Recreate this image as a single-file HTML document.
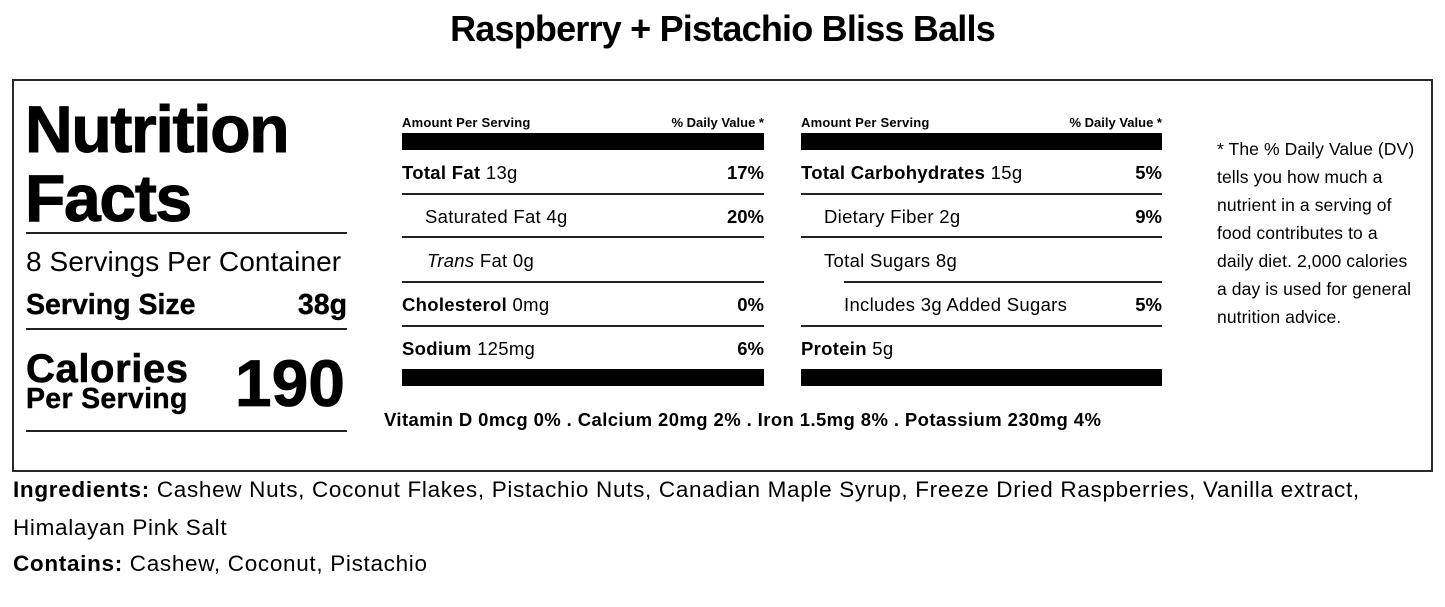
<!DOCTYPE html>
<html><head><meta charset="utf-8"><style>
*{margin:0;padding:0;box-sizing:border-box}
html,body{width:1445px;height:607px;background:#fff;overflow:hidden}
body{position:relative;font-family:"Liberation Sans",Arial,sans-serif;color:#000}
.a{position:absolute;white-space:nowrap;line-height:1}
.b{font-weight:bold}
.ln{position:absolute;height:2px;background:#222}
.bar{position:absolute;height:17px;background:#000}
.r{text-align:right}
.row{letter-spacing:0.3px}
</style></head><body>
<div class="a b" style="left:0;width:1445px;text-align:center;top:11px;font-size:36px;letter-spacing:-0.8px">Raspberry + Pistachio Bliss Balls</div>

<div style="position:absolute;left:12px;top:79px;width:1421px;height:393px;border:2px solid #2a2a2a"></div>

<!-- left column -->
<div class="a b" style="left:25px;top:96px;font-size:66px;letter-spacing:-1.3px;-webkit-text-stroke:1px #000">Nutrition</div>
<div class="a b" style="left:25px;top:165px;font-size:66px;letter-spacing:-1.3px;-webkit-text-stroke:1px #000">Facts</div>
<div class="ln" style="left:26px;top:232px;width:321px"></div>
<div class="a" style="left:26px;top:248px;font-size:28px;letter-spacing:0.1px">8 Servings Per Container</div>
<div class="a b" style="left:26px;top:291px;font-size:28.5px;-webkit-text-stroke:0.4px #000">Serving Size</div>
<div class="a b r" style="left:247px;width:100px;top:291px;font-size:28.5px;-webkit-text-stroke:0.4px #000">38g</div>
<div class="ln" style="left:26px;top:328px;width:321px"></div>
<div class="a b" style="left:26px;top:349px;font-size:40px;letter-spacing:0.6px;-webkit-text-stroke:0.6px #000">Calories</div>
<div class="a b" style="left:26px;top:385px;font-size:28.5px;letter-spacing:0.3px;-webkit-text-stroke:0.4px #000">Per Serving</div>
<div class="a b r" style="left:195px;width:150px;top:350px;font-size:66px;-webkit-text-stroke:0.8px #000">190</div>
<div class="ln" style="left:26px;top:430px;width:321px"></div>

<!-- middle column -->
<div class="a b" style="left:402px;top:116px;font-size:13px;letter-spacing:0.2px">Amount Per Serving</div>
<div class="a b r" style="left:600px;width:164px;top:116px;font-size:13px">% Daily Value *</div>
<div class="bar" style="left:402px;top:133px;width:362px"></div>

<div class="a row" style="left:402px;top:164px;font-size:18.5px"><b>Total Fat</b> 13g</div>
<div class="a b r" style="left:664px;width:100px;top:164px;font-size:18.5px">17%</div>
<div class="ln" style="left:402px;top:193px;width:362px"></div>

<div class="a row" style="left:425px;top:208px;font-size:18.5px">Saturated Fat 4g</div>
<div class="a b r" style="left:664px;width:100px;top:208px;font-size:18.5px">20%</div>
<div class="ln" style="left:402px;top:236px;width:362px"></div>

<div class="a row" style="left:427px;top:252px;font-size:18.5px"><i>Trans</i> Fat 0g</div>
<div class="ln" style="left:402px;top:281px;width:362px"></div>

<div class="a row" style="left:402px;top:296px;font-size:18.5px"><b>Cholesterol</b> 0mg</div>
<div class="a b r" style="left:664px;width:100px;top:296px;font-size:18.5px">0%</div>
<div class="ln" style="left:402px;top:325px;width:362px"></div>

<div class="a row" style="left:402px;top:340px;font-size:18.5px"><b>Sodium</b> 125mg</div>
<div class="a b r" style="left:664px;width:100px;top:340px;font-size:18.5px">6%</div>
<div class="bar" style="left:402px;top:369px;width:362px"></div>

<!-- right column -->
<div class="a b" style="left:801px;top:116px;font-size:13px;letter-spacing:0.2px">Amount Per Serving</div>
<div class="a b r" style="left:998px;width:164px;top:116px;font-size:13px">% Daily Value *</div>
<div class="bar" style="left:801px;top:133px;width:361px"></div>

<div class="a row" style="left:801px;top:164px;font-size:18.5px"><b>Total Carbohydrates</b> 15g</div>
<div class="a b r" style="left:1062px;width:100px;top:164px;font-size:18.5px">5%</div>
<div class="ln" style="left:801px;top:193px;width:361px"></div>

<div class="a row" style="left:824px;top:208px;font-size:18.5px">Dietary Fiber 2g</div>
<div class="a b r" style="left:1062px;width:100px;top:208px;font-size:18.5px">9%</div>
<div class="ln" style="left:801px;top:236px;width:361px"></div>

<div class="a row" style="left:824px;top:252px;font-size:18.5px">Total Sugars 8g</div>
<div class="ln" style="left:844px;top:281px;width:318px"></div>

<div class="a row" style="left:844px;top:296px;font-size:18.5px">Includes 3g Added Sugars</div>
<div class="a b r" style="left:1062px;width:100px;top:296px;font-size:18.5px">5%</div>
<div class="ln" style="left:801px;top:325px;width:361px"></div>

<div class="a row" style="left:801px;top:340px;font-size:18.5px"><b>Protein</b> 5g</div>
<div class="bar" style="left:801px;top:369px;width:361px"></div>

<div class="a b" style="left:384px;top:411px;font-size:18.5px;letter-spacing:0.4px">Vitamin D 0mcg 0% . Calcium 20mg 2% . Iron 1.5mg 8% . Potassium 230mg 4%</div>

<!-- footnote -->
<div style="position:absolute;left:1217px;top:135px;font-size:17.5px;line-height:28px;white-space:nowrap;letter-spacing:0.1px">* The % Daily Value (DV)<br>tells you how much a<br>nutrient in a serving of<br>food contributes to a<br>daily diet. 2,000 calories<br>a day is used for general<br>nutrition advice.</div>

<!-- ingredients -->
<div style="position:absolute;left:13px;top:471px;font-size:22.5px;line-height:38px;white-space:nowrap;letter-spacing:0.68px"><b>Ingredients:</b> Cashew Nuts, Coconut Flakes, Pistachio Nuts, Canadian Maple Syrup, Freeze Dried Raspberries, Vanilla extract,<br>Himalayan Pink Salt</div>
<div class="a" style="left:13px;top:553px;font-size:22.5px;letter-spacing:0.68px"><b>Contains:</b> Cashew, Coconut, Pistachio</div>
</body></html>
